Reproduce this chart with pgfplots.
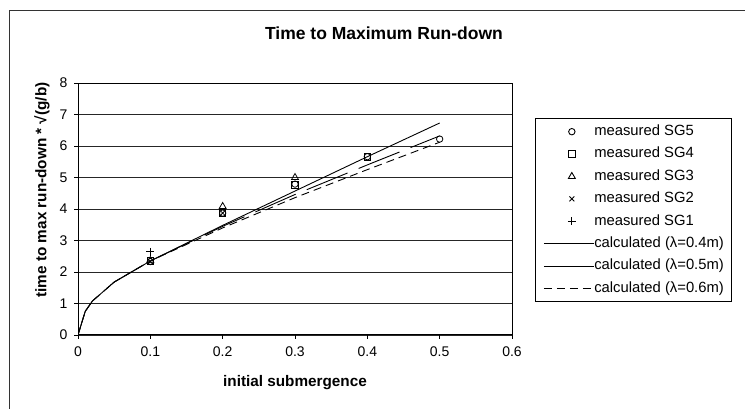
\documentclass[border=0pt]{standalone}
\usepackage{fontspec}
\setmainfont{Liberation Sans}
\usepackage{pgfplots}
\pgfplotsset{compat=1.18}

\pgfplotsset{
  markleg/.style={legend image code/.code={%
      \path (0pt,0pt) (50pt,0pt);
      \draw[##1] plot coordinates {(28pt,0pt)};}},
  lineleg/.style={legend image code/.code={%
      \draw[##1] (0pt,0pt) -- (50pt,0pt);}},
  solidleg/.style={legend image code/.code={%
      \draw[##1,solid] (0pt,0pt) -- (50pt,0pt);}},
}

\begin{document}
\begin{tikzpicture}[x=1pt,y=1pt]
\useasboundingbox (-78,-74) rectangle (667,335);
% chart area frame
\draw[black!80, line width=1pt] (-68,-90) -- (-68,324) -- (690,324);
% title and axis labels
\node[font=\fontsize{17.5}{20}\selectfont\bfseries] at (306,302) {Time to Maximum Run-down};
\node[font=\fontsize{15.3}{18}\selectfont\bfseries, rotate=90] at (-36,145) {time to max run-down * √(g/b)};
\node[font=\fontsize{15.3}{18}\selectfont\bfseries] at (217,-48) {initial submergence};

\begin{axis}[
  at={(0,0)}, anchor=origin,
  scale only axis, width=434pt, height=252pt,
  xmin=0, xmax=0.6, ymin=0, ymax=8,
  xtick={0,0.1,0.2,0.3,0.4,0.5,0.6},
  ytick={0,1,2,3,4,5,6,7,8},
  tick pos=left, tick align=outside,
  major tick length=4pt,
  tick style={black, line width=0.8pt},
  axis line style={black, line width=1pt},
  ymajorgrids,
  grid style={black!85, line width=0.8pt},
  /pgf/number format/assume math mode=true,
  ticklabel style={font=\fontsize{14}{16}\selectfont},
  xticklabel style={yshift=-4pt},
  yticklabel style={xshift=-3pt},
  legend cell align=left,
  legend style={
    at={(1.053,0.861)}, anchor=north west,
    draw=black, line width=0.8pt, fill=white,
    font=\fontsize{14.8}{17}\selectfont,
    inner xsep=8pt, inner ysep=6pt,
    nodes={inner sep=0pt, text height=11pt, text depth=3.5pt},
    row sep=7.9pt,
  },
  legend image post style={line width=0.9pt},
]
% measured values
\addplot[only marks, mark=o, mark size=3.2pt, black, line width=0.8pt, markleg]
  coordinates {(0.1,2.33) (0.2,3.87) (0.3,4.79) (0.4,5.66) (0.5,6.22)};
\addlegendentry{measured SG5}
\addplot[only marks, mark=square, mark size=3.2pt, black, line width=0.8pt, markleg]
  coordinates {(0.1,2.35) (0.2,3.88) (0.3,4.77) (0.4,5.65)};
\addlegendentry{measured SG4}
\addplot[only marks, mark=triangle, mark size=4pt, black, line width=0.8pt, markleg]
  coordinates {(0.1,2.36) (0.2,4.08) (0.3,5.00)};
\addlegendentry{measured SG3}
\addplot[only marks, mark=x, mark size=3.5pt, black, line width=0.8pt, markleg]
  coordinates {(0.1,2.33) (0.2,3.87)};
\addlegendentry{measured SG2}
\addplot[only marks, mark=+, mark size=4pt, black, line width=0.8pt, markleg]
  coordinates {(0.1,2.64)};
\addlegendentry{measured SG1}
% calculated curves
\addplot[no marks, black, line width=0.9pt, lineleg]
  coordinates {(0,0) (0.01,0.75) (0.02,1.08) (0.05,1.68) (0.1,2.35) (0.2,3.48) (0.3,4.57) (0.4,5.66) (0.5,6.73)};
\addlegendentry{calculated (λ=0.4m)}
\addplot[no marks, black, line width=0.9pt, dash pattern=on 44pt off 12pt, solidleg]
  coordinates {(0,0) (0.01,0.75) (0.02,1.08) (0.05,1.68) (0.1,2.35) (0.2,3.45) (0.3,4.46) (0.4,5.40) (0.5,6.32)};
\addlegendentry{calculated (λ=0.5m)}
\addplot[no marks, black, line width=0.9pt, dash pattern=on 8pt off 5pt, lineleg]
  coordinates {(0,0) (0.01,0.75) (0.02,1.08) (0.05,1.68) (0.1,2.35) (0.2,3.40) (0.3,4.36) (0.4,5.25) (0.5,6.12)};
\addlegendentry{calculated (λ=0.6m)}
\end{axis}
\end{tikzpicture}
\end{document}
